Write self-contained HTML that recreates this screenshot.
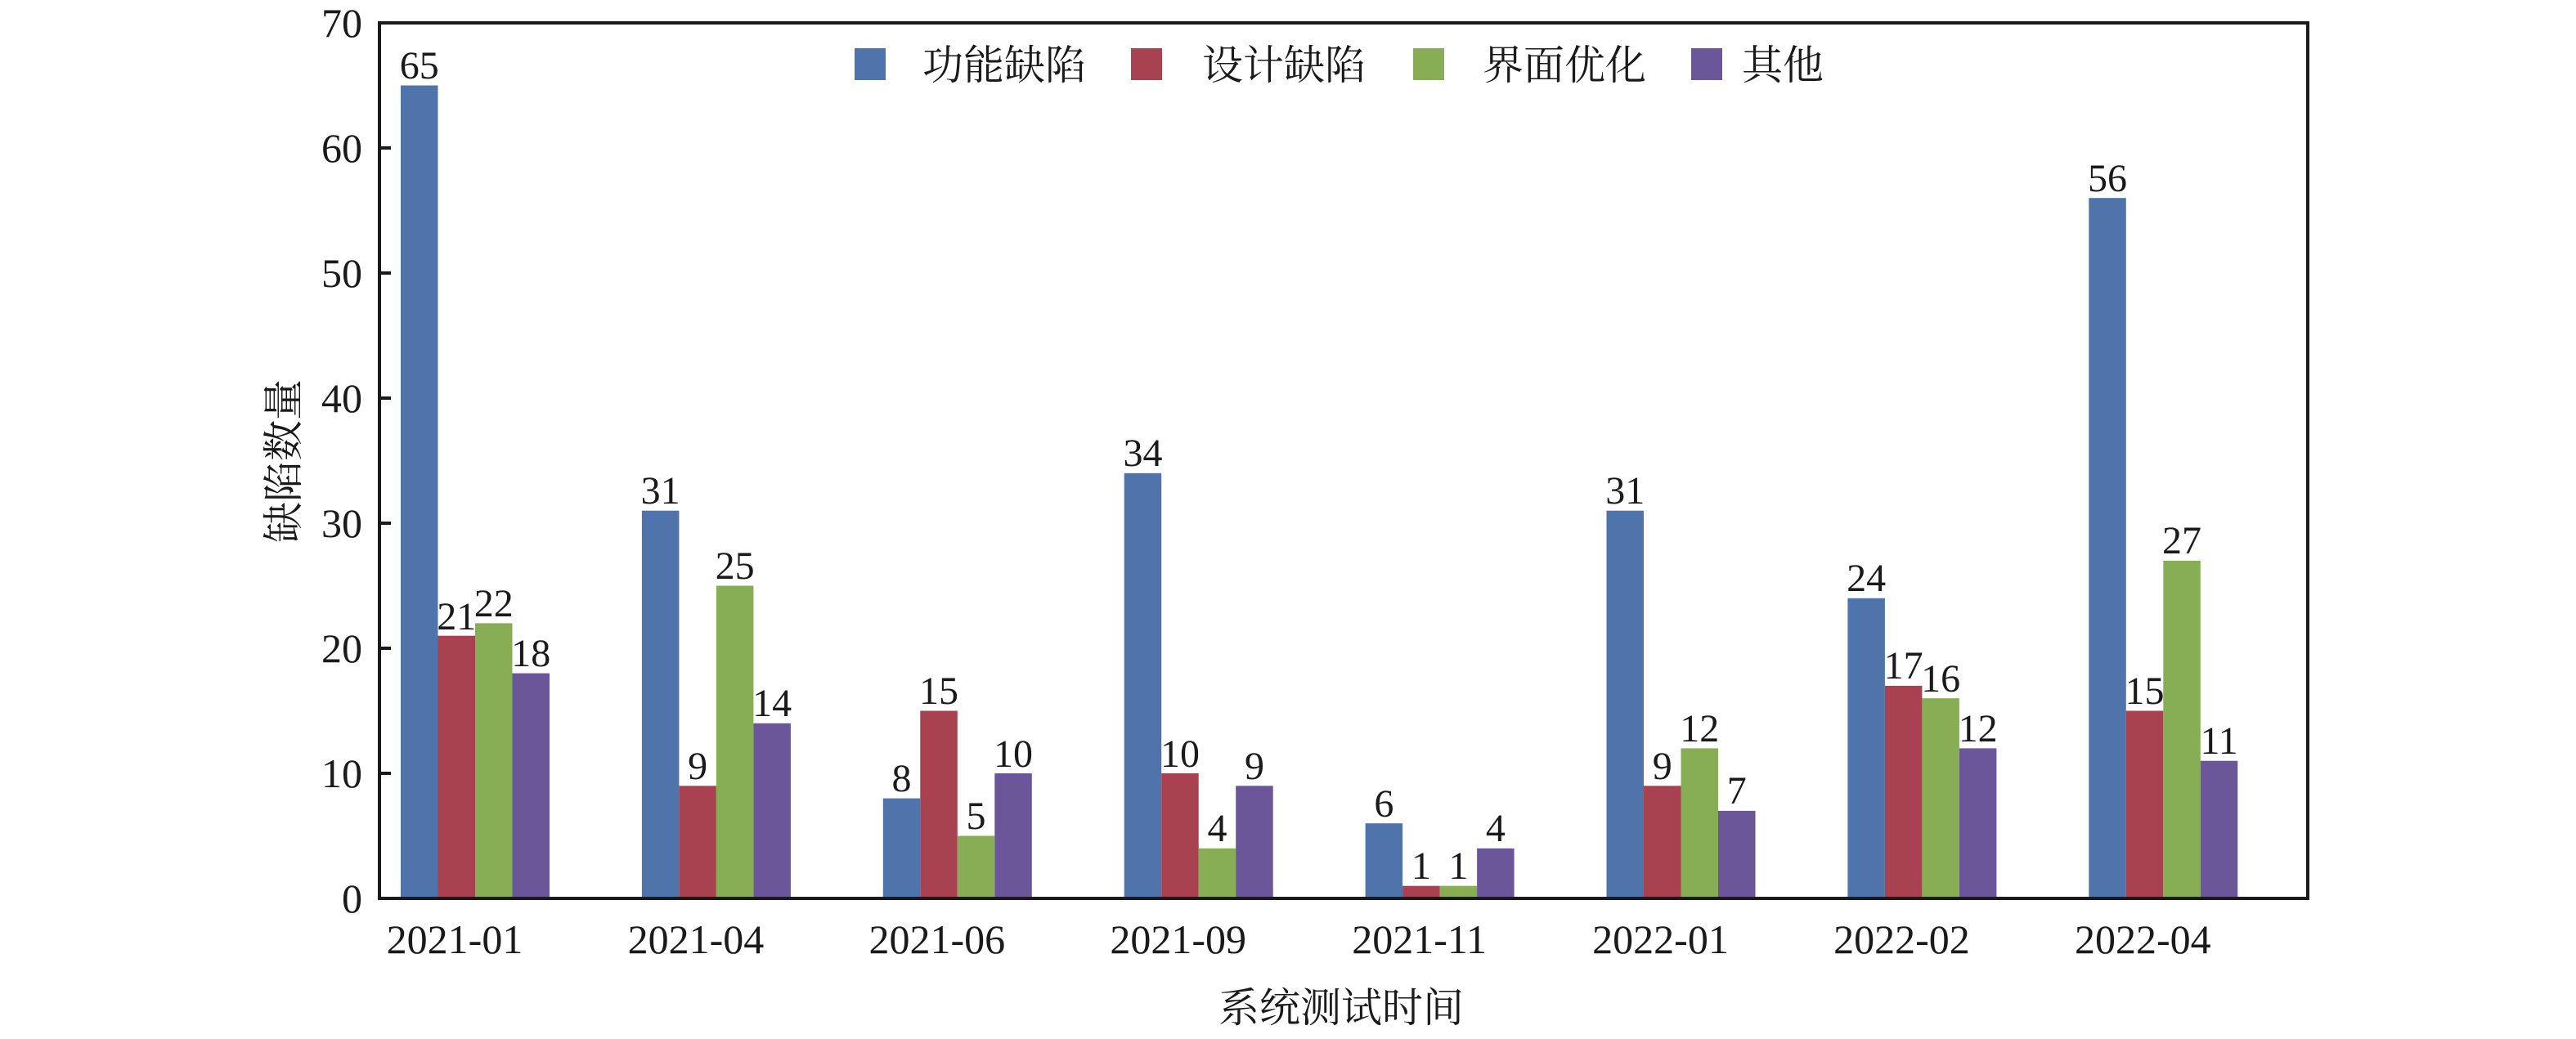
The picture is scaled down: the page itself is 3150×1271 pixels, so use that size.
<!DOCTYPE html>
<html><head><meta charset="utf-8"><style>
html,body{margin:0;padding:0;background:#fff;}
svg{display:block;}
text{font-family:"Liberation Serif","Noto Serif CJK SC",serif;fill:#1a1a1a;}
.b{fill:#4f74ab}.r{fill:#a84150}.g{fill:#88ae55}.p{fill:#6b5699}
.v{font-size:48px;text-anchor:middle}
.c{font-size:50px;text-anchor:middle}
.t{font-size:50px;text-anchor:end}
</style></head><body>
<svg width="3150" height="1271" viewBox="0 0 3150 1271" xmlns="http://www.w3.org/2000/svg">
<g transform="translate(490,0)">
<rect class="b" x="0" y="104.5" width="45.5" height="994.5"/><rect class="r" x="45.5" y="777.7" width="45.5" height="321.3"/><rect class="g" x="91" y="762.4" width="45.5" height="336.6"/><rect class="p" x="136.5" y="823.6" width="45.5" height="275.4"/>
<text class="v" x="22.75" y="96">65</text><text class="v" x="68.25" y="770">21</text><text class="v" x="113.75" y="754">22</text><text class="v" x="159.25" y="815">18</text>
<text class="c" x="66" y="1166">2021-01</text></g>
<g transform="translate(784.9,0)">
<rect class="b" x="0" y="624.7" width="45.5" height="474.3"/><rect class="r" x="45.5" y="961.3" width="45.5" height="137.7"/><rect class="g" x="91" y="716.5" width="45.5" height="382.5"/><rect class="p" x="136.5" y="884.8" width="45.5" height="214.2"/>
<text class="v" x="22.75" y="616">31</text><text class="v" x="68.25" y="953">9</text><text class="v" x="113.75" y="708">25</text><text class="v" x="159.25" y="876">14</text>
<text class="c" x="66" y="1166">2021-04</text></g>
<g transform="translate(1079.8,0)">
<rect class="b" x="0" y="976.6" width="45.5" height="122.4"/><rect class="r" x="45.5" y="869.5" width="45.5" height="229.5"/><rect class="g" x="91" y="1022.5" width="45.5" height="76.5"/><rect class="p" x="136.5" y="946" width="45.5" height="153"/>
<text class="v" x="22.75" y="968">8</text><text class="v" x="68.25" y="861">15</text><text class="v" x="113.75" y="1014">5</text><text class="v" x="159.25" y="938">10</text>
<text class="c" x="66" y="1166">2021-06</text></g>
<g transform="translate(1374.7,0)">
<rect class="b" x="0" y="578.8" width="45.5" height="520.2"/><rect class="r" x="45.5" y="946" width="45.5" height="153"/><rect class="g" x="91" y="1037.8" width="45.5" height="61.2"/><rect class="p" x="136.5" y="961.3" width="45.5" height="137.7"/>
<text class="v" x="22.75" y="570">34</text><text class="v" x="68.25" y="938">10</text><text class="v" x="113.75" y="1029">4</text><text class="v" x="159.25" y="953">9</text>
<text class="c" x="66" y="1166">2021-09</text></g>
<g transform="translate(1669.6,0)">
<rect class="b" x="0" y="1007.2" width="45.5" height="91.8"/><rect class="r" x="45.5" y="1083.7" width="45.5" height="15.3"/><rect class="g" x="91" y="1083.7" width="45.5" height="15.3"/><rect class="p" x="136.5" y="1037.8" width="45.5" height="61.2"/>
<text class="v" x="22.75" y="999">6</text><text class="v" x="68.25" y="1075">1</text><text class="v" x="113.75" y="1075">1</text><text class="v" x="159.25" y="1029">4</text>
<text class="c" x="66" y="1166">2021-11</text></g>
<g transform="translate(1964.5,0)">
<rect class="b" x="0" y="624.7" width="45.5" height="474.3"/><rect class="r" x="45.5" y="961.3" width="45.5" height="137.7"/><rect class="g" x="91" y="915.4" width="45.5" height="183.6"/><rect class="p" x="136.5" y="991.9" width="45.5" height="107.1"/>
<text class="v" x="22.75" y="616">31</text><text class="v" x="68.25" y="953">9</text><text class="v" x="113.75" y="907">12</text><text class="v" x="159.25" y="983">7</text>
<text class="c" x="66" y="1166">2022-01</text></g>
<g transform="translate(2259.4,0)">
<rect class="b" x="0" y="731.8" width="45.5" height="367.2"/><rect class="r" x="45.5" y="838.9" width="45.5" height="260.1"/><rect class="g" x="91" y="854.2" width="45.5" height="244.8"/><rect class="p" x="136.5" y="915.4" width="45.5" height="183.6"/>
<text class="v" x="22.75" y="723">24</text><text class="v" x="68.25" y="830">17</text><text class="v" x="113.75" y="846">16</text><text class="v" x="159.25" y="907">12</text>
<text class="c" x="66" y="1166">2022-02</text></g>
<g transform="translate(2554.3,0)">
<rect class="b" x="0" y="242.2" width="45.5" height="856.8"/><rect class="r" x="45.5" y="869.5" width="45.5" height="229.5"/><rect class="g" x="91" y="685.9" width="45.5" height="413.1"/><rect class="p" x="136.5" y="930.7" width="45.5" height="168.3"/>
<text class="v" x="22.75" y="234">56</text><text class="v" x="68.25" y="861">15</text><text class="v" x="113.75" y="677">27</text><text class="v" x="159.25" y="922">11</text>
<text class="c" x="66" y="1166">2022-04</text></g>
<text class="t" x="443" y="1116">0</text><text class="t" x="443" y="963">10</text><text class="t" x="443" y="810">20</text><text class="t" x="443" y="657">30</text><text class="t" x="443" y="504">40</text><text class="t" x="443" y="351">50</text><text class="t" x="443" y="198">60</text><text class="t" x="443" y="45">70</text>
<g stroke="#1a1a1a" stroke-width="4">
<line x1="464" y1="946" x2="478" y2="946"/><line x1="464" y1="793" x2="478" y2="793"/><line x1="464" y1="640" x2="478" y2="640"/><line x1="464" y1="487" x2="478" y2="487"/><line x1="464" y1="334" x2="478" y2="334"/><line x1="464" y1="181" x2="478" y2="181"/>
</g>
<rect x="464" y="28" width="2358" height="1071" fill="none" stroke="#1a1a1a" stroke-width="4"/>
<g font-size="50">
<rect x="1045" y="59" width="38" height="39" fill="#4f74ab"/><text x="1128" y="97">功能缺陷</text>
<rect x="1383" y="59" width="38" height="39" fill="#a84150"/><text x="1470" y="97">设计缺陷</text>
<rect x="1728" y="59" width="38" height="39" fill="#88ae55"/><text x="1813" y="97">界面优化</text>
<rect x="2068" y="59" width="38" height="39" fill="#6b5699"/><text x="2130" y="97">其他</text>
</g>
<text x="1640" y="1250" font-size="50" text-anchor="middle">系统测试时间</text>
<text transform="translate(364,564) rotate(-90)" font-size="50" text-anchor="middle">缺陷数量</text>
</svg>
</body></html>
